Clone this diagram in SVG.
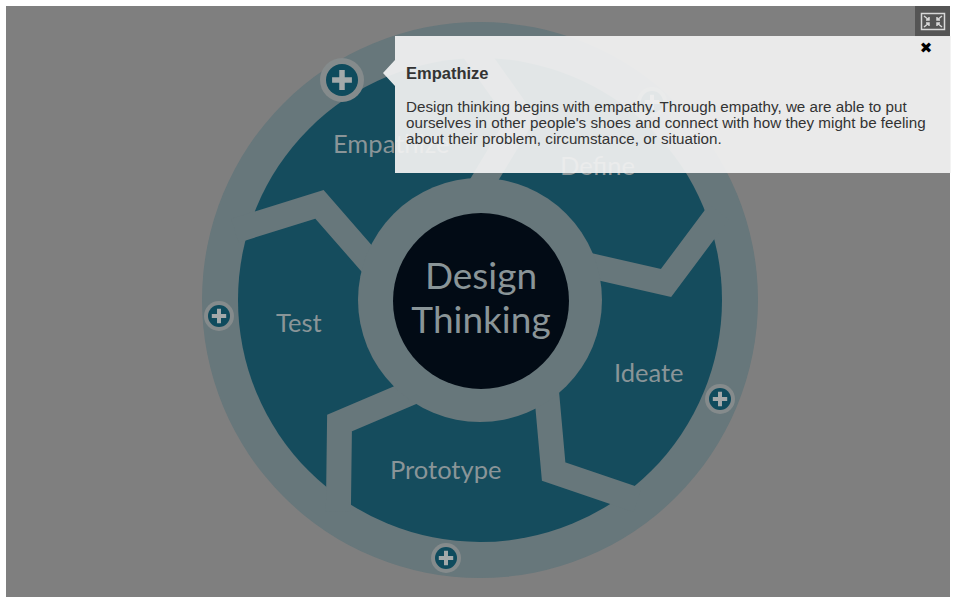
<svg xmlns="http://www.w3.org/2000/svg" width="956" height="604" viewBox="0 0 956 604">
  <style>
    .ring { fill: #67777b; }
    .teal { fill: #154c5d; }
    .band { fill: none; stroke: #67777b; stroke-width: 25; stroke-linejoin: miter; stroke-miterlimit: 10; }
    .label { font-family: Lato, "Open Sans", sans-serif; fill: #8a9598; font-size: 25.5px; }
    .label.big { font-size: 37px; }
    .btn-ring { fill: #858b8c; }
    .btn-core { fill: #0f4b5d; }
    .btn-plus { fill: #a3a9aa; }
    .pop-title { font-family: "Liberation Sans", Arial, sans-serif; font-size: 16.5px; font-weight: bold; fill: #333333; }
    .pop-body { font-family: "Liberation Sans", Arial, sans-serif; font-size: 15.2px; fill: #333333; }
  </style>
  <defs>
    <!-- one chevron separator, drawn relative to the wheel centre -->
    <path id="sep" class="band" d="M 239 -88 L 186 -17 L 103 -36"/>
    <!-- plus glyph for the hotspot buttons, unit size -->
    <path id="plus" d="M -2.5 -9 H 2.5 V -2.5 H 9 V 2.5 H 2.5 V 9 H -2.5 V 2.5 H -9 V -2.5 H -2.5 Z"/>
  </defs>

  <!-- page backdrop -->
  <rect x="0" y="0" width="956" height="604" fill="#ffffff"/>
  <rect x="6" y="6" width="944" height="591" fill="#7f7f7f"/>

  <!-- wheel -->
  <g id="wheel">
    <circle class="ring" cx="480" cy="300" r="278"/>
    <circle class="teal" cx="480" cy="300" r="242"/>
  </g>

  <g id="connectors" transform="translate(480 300)">
    <use href="#sep"/>
    <use href="#sep" transform="rotate(72)"/>
    <use href="#sep" transform="rotate(144)"/>
    <use href="#sep" transform="rotate(216)"/>
    <use href="#sep" transform="rotate(288)"/>
  </g>

  <g id="center">
    <circle class="ring" cx="480" cy="300" r="122"/>
    <circle cx="481" cy="301" r="88" fill="#020b15"/>
    <text class="label big" x="481" y="289" text-anchor="middle">Design</text>
    <text class="label big" x="481" y="333" text-anchor="middle">Thinking</text>
  </g>

  <g id="empathize">
    <text class="label" x="333" y="153">Empathize</text>
    <circle class="btn-ring" cx="342" cy="80" r="22"/>
    <circle class="btn-core" cx="342" cy="80" r="16"/>
    <use href="#plus" class="btn-plus" transform="translate(342 80) scale(1.1)"/>
  </g>

  <g id="define">
    <text class="label" x="560" y="175">Define</text>
    <circle class="btn-ring" cx="652" cy="102" r="15"/>
    <circle class="btn-core" cx="652" cy="102" r="11"/>
    <use href="#plus" class="btn-plus" transform="translate(652 102) scale(0.8)"/>
  </g>

  <g id="ideate">
    <text class="label" x="614" y="382">Ideate</text>
    <circle class="btn-ring" cx="720" cy="399" r="15"/>
    <circle class="btn-core" cx="720" cy="399" r="11"/>
    <use href="#plus" class="btn-plus" transform="translate(720 399) scale(0.8)"/>
  </g>

  <g id="prototype">
    <text class="label" x="390" y="479">Prototype</text>
    <circle class="btn-ring" cx="446" cy="558" r="15"/>
    <circle class="btn-core" cx="446" cy="558" r="11"/>
    <use href="#plus" class="btn-plus" transform="translate(446 558) scale(0.8)"/>
  </g>

  <g id="test">
    <text class="label" x="276" y="332">Test</text>
    <circle class="btn-ring" cx="219" cy="316" r="15"/>
    <circle class="btn-core" cx="219" cy="316" r="11"/>
    <use href="#plus" class="btn-plus" transform="translate(219 316) scale(0.8)"/>
  </g>

  <!-- fullscreen toggle -->
  <g id="fullscreen">
    <rect x="915" y="6" width="35" height="31" fill="#555555"/>
    <rect x="921.5" y="13.5" width="23" height="16" fill="none" stroke="#d8d8d8" stroke-width="1.5"/>
    <g stroke="#d8d8d8" stroke-width="1.5" fill="none">
      <path d="M 924 16 L 929 20 M 926 20 H 929 V 17"/>
      <path d="M 942 16 L 937 20 M 940 20 H 937 V 17"/>
      <path d="M 924 27 L 929 23 M 926 23 H 929 V 26"/>
      <path d="M 942 27 L 937 23 M 940 23 H 937 V 26"/>
    </g>
  </g>

  <!-- info popup -->
  <g id="popup">
    <path d="M 395 36 H 951 V 173 H 395 V 86 L 383 73 L 395 60 Z" fill="#f2f2f2" fill-opacity="0.93"/>
    <text x="926" y="53" font-family="'DejaVu Sans', sans-serif" font-size="15" font-weight="bold" text-anchor="middle" fill="#000000">✖</text>
    <text class="pop-title" x="406" y="79">Empathize</text>
    <text class="pop-body" x="406" y="112">Design thinking begins with empathy. Through empathy, we are able to put</text>
    <text class="pop-body" x="406" y="128">ourselves in other people's shoes and connect with how they might be feeling</text>
    <text class="pop-body" x="406" y="144">about their problem, circumstance, or situation.</text>
  </g>
</svg>
